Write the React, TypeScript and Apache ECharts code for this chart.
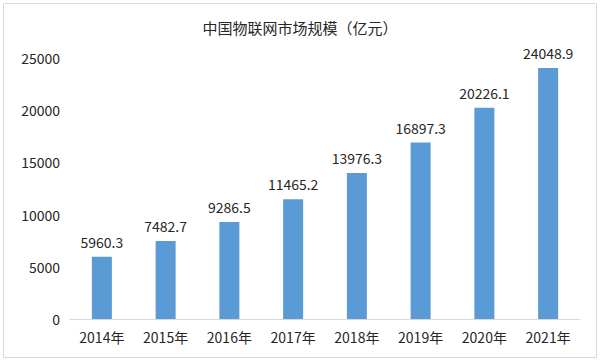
import React, { useEffect, useRef } from "react";
import * as echarts from "echarts";

const categories = ["2014年", "2015年", "2016年", "2017年", "2018年", "2019年", "2020年", "2021年"];
const values = [5960.3, 7482.7, 9286.5, 11465.2, 13976.3, 16897.3, 20226.1, 24048.9];
const titleText = "中国物联网市场规模（亿元）";

export default function App() {
  const ref = useRef<HTMLDivElement>(null);
  useEffect(() => {
    if (!ref.current) return;
    const chart = echarts.init(ref.current, undefined, { renderer: "svg" });
    const font = "'Microsoft YaHei', 'Noto Sans CJK SC', sans-serif";
    chart.setOption({
      animation: false,
      backgroundColor: "#ffffff",
      textStyle: { fontFamily: font },
      title: {
        text: titleText,
        left: "center",
        top: 15,
        textStyle: { fontSize: 15, fontWeight: "normal", color: "#262626", fontFamily: font },
      },
      graphic: [
        {
          type: "rect",
          shape: { x: 3.5, y: 3.5, width: 593, height: 354 },
          style: { fill: "none", stroke: "#d9d9d9", lineWidth: 1 },
          silent: true,
        },
      ],
      grid: { left: 70, right: 20, top: 58, bottom: 43, containLabel: false },
      xAxis: {
        type: "category",
        data: categories,
        axisLine: { show: true, lineStyle: { color: "#d9d9d9", width: 1 } },
        axisTick: { show: false },
        axisLabel: { color: "#262626", fontSize: 14, margin: 11, fontFamily: font },
      },
      yAxis: {
        type: "value",
        min: 0,
        max: 25000,
        interval: 5000,
        axisLine: { show: false },
        axisTick: { show: false },
        splitLine: { show: false },
        axisLabel: {
          color: "#262626",
          fontSize: 14,
          margin: 10,
          fontFamily: font,
          formatter: (v: number) => String(v),
        },
      },
      series: [
        {
          type: "bar",
          data: values,
          barWidth: 20,
          itemStyle: { color: "#5B9BD5" },
          label: {
            show: true,
            position: "top",
            distance: 8,
            color: "#262626",
            fontSize: 14,
            fontFamily: font,
          },
        },
      ],
    });
    return () => chart.dispose();
  }, []);
  return (
    <div
      ref={ref}
      style={{ position: "fixed", left: 0, top: 0, width: 600, height: 362 }}
    />
  );
}
